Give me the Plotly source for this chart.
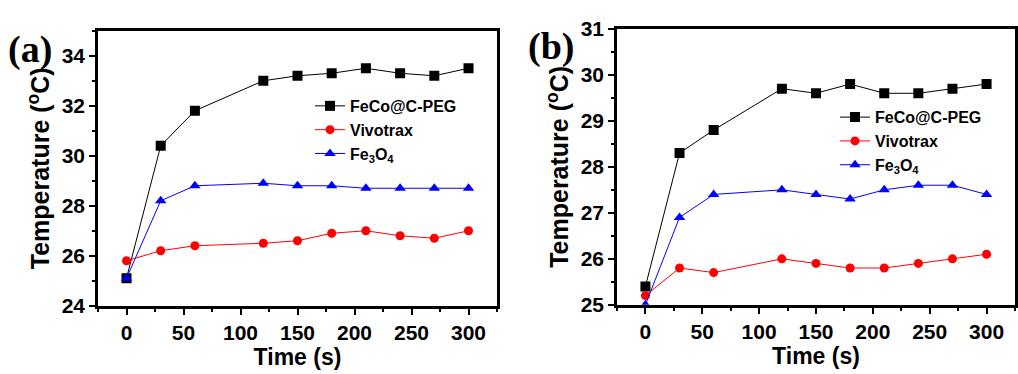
import plotly.graph_objects as go

time_s = [0, 30, 60, 120, 150, 180, 210, 240, 270, 300]

a_feco = [25.1, 30.4, 31.8, 33.0, 33.2, 33.3, 33.5, 33.3, 33.2, 33.5]
a_vivo = [25.8, 26.2, 26.4, 26.5, 26.6, 26.9, 27.0, 26.8, 26.7, 27.0]
a_fe3o4 = [25.1, 28.2, 28.8, 28.9, 28.8, 28.8, 28.7, 28.7, 28.7, 28.7]

b_feco = [25.4, 28.3, 28.8, 29.7, 29.6, 29.8, 29.6, 29.6, 29.7, 29.8]
b_vivo = [25.2, 25.8, 25.7, 26.0, 25.9, 25.8, 25.8, 25.9, 26.0, 26.1]
b_fe3o4 = [25.0, 26.9, 27.4, 27.5, 27.4, 27.3, 27.5, 27.6, 27.6, 27.4]

series_names = ["FeCo@C-PEG", "Vivotrax", "Fe<sub>3</sub>O<sub>4</sub>"]
colors = ["#000000", "#ff0000", "#0000ff"]
symbols = ["square", "circle", "triangle-up"]

W, H = 1018, 374
fig = go.Figure()

panels = [
    ("x", "y", "legend", [a_feco, a_vivo, a_fe3o4]),
    ("x2", "y2", "legend2", [b_feco, b_vivo, b_fe3o4]),
]
for xa, ya, lg, data in panels:
    for name, vals, c, s in zip(series_names, data, colors, symbols):
        fig.add_trace(go.Scatter(
            x=time_s, y=vals, name=name, xaxis=xa, yaxis=ya, legend=lg,
            mode="lines+markers",
            line=dict(color=c, width=1),
            marker=dict(symbol=s, color=c, size=10 if s != "circle" else 9),
        ))

def px_x(p):
    return p / W

def px_y(p):
    return 1 - p / H

FAM = "Arial, Liberation Sans, sans-serif"
tickfont = dict(family=FAM, size=21, color="black", weight="bold")
xtitlefont = dict(family=FAM, size=23, color="black", weight="bold")
ytitlefont = dict(family=FAM, size=25, color="black", weight="bold")
legfont = dict(family=FAM, size=16, color="black", weight="bold")

common_x = dict(
    range=[-25, 325], tickvals=[0, 50, 100, 150, 200, 250, 300],
    ticks="outside", ticklen=6, tickwidth=2, tickcolor="black",
    minor=dict(ticks="outside", ticklen=3, tickwidth=1.5, dtick=25, tick0=0, tickcolor="black"),
    showline=True, linewidth=2.5, linecolor="black", mirror=True,
    showgrid=False, zeroline=False,
    tickfont=tickfont,
    title=dict(text="Time (s)", font=xtitlefont, standoff=0),
)
common_y = dict(
    ticks="outside", ticklen=6, tickwidth=2, tickcolor="black",
    showline=True, linewidth=2.5, linecolor="black", mirror=True,
    showgrid=False, zeroline=False,
    tickfont=tickfont,
    title=dict(text="Temperature (<sup>o</sup>C)", font=ytitlefont, standoff=5),
)

fig.update_layout(
    width=W, height=H,
    margin=dict(l=0, r=0, t=0, b=0),
    paper_bgcolor="white", plot_bgcolor="white",
    xaxis=dict(domain=[px_x(98), px_x(497)], anchor="y", **common_x),
    yaxis=dict(domain=[px_y(313), px_y(20)], anchor="x", range=[24, 35],
               tickvals=[24, 26, 28, 30, 32, 34],
               minor=dict(ticks="outside", ticklen=3, tickwidth=1.5, dtick=1, tick0=24, tickcolor="black"),
               **common_y),
    xaxis2=dict(domain=[px_x(617), px_x(1015)], anchor="y2", **common_x),
    yaxis2=dict(domain=[px_y(312), px_y(18)], anchor="x2", range=[25, 31],
                tickvals=[25, 26, 27, 28, 29, 30, 31],
                minor=dict(ticks="outside", ticklen=3, tickwidth=1.5, dtick=0.5, tick0=25, tickcolor="black"),
                **common_y),
    legend=dict(x=px_x(310), y=px_y(82), xanchor="left", yanchor="top",
                bgcolor="rgba(0,0,0,0)", tracegroupgap=0, itemwidth=30,
                font=legfont),
    legend2=dict(x=px_x(835), y=px_y(94), xanchor="left", yanchor="top",
                 bgcolor="rgba(0,0,0,0)", tracegroupgap=0, itemwidth=30,
                 font=legfont),
    showlegend=True,
    annotations=[
        dict(text="<b>(a)</b>", x=px_x(6), y=px_y(40), xref="paper", yref="paper",
             xanchor="left", yanchor="middle", showarrow=False,
             font=dict(family="Times New Roman, Liberation Serif, serif", size=38, color="black")),
        dict(text="<b>(b)</b>", x=px_x(526), y=px_y(37), xref="paper", yref="paper",
             xanchor="left", yanchor="middle", showarrow=False,
             font=dict(family="Times New Roman, Liberation Serif, serif", size=38, color="black")),
    ],
)

fig.write_html("out.html")
